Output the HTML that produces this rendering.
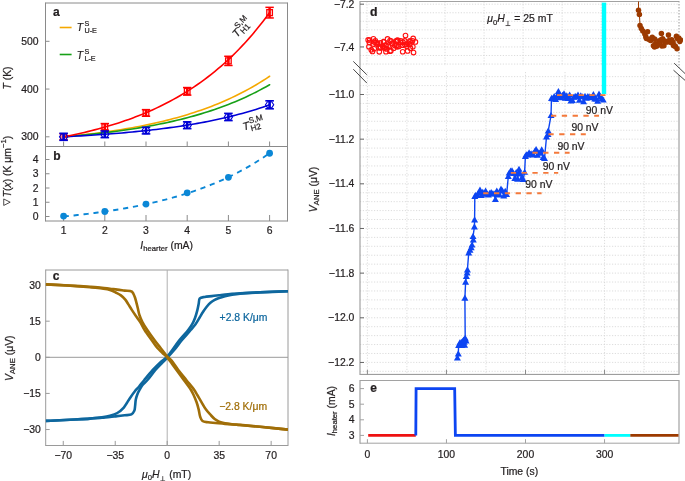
<!DOCTYPE html>
<html><head><meta charset="utf-8"><style>
html,body{margin:0;padding:0;background:#fff;overflow:hidden;width:685px;height:481px;}
svg{display:block;font-family:'Liberation Sans',sans-serif;will-change:transform;}
text{white-space:pre;}
</style></head><body>
<svg width="685" height="481" viewBox="0 0 685 481" style="font-family:'Liberation Sans',sans-serif">
<rect width="685" height="481" fill="#fff"/>
<line x1="45.5" y1="3" x2="287.5" y2="3" stroke="#8a8a8a" stroke-width="1" />
<line x1="45.5" y1="146.5" x2="287.5" y2="146.5" stroke="#8a8a8a" stroke-width="1" />
<line x1="45.5" y1="221" x2="287.5" y2="221" stroke="#8a8a8a" stroke-width="1" />
<line x1="45.5" y1="2.5" x2="45.5" y2="221.5" stroke="#8a8a8a" stroke-width="1" />
<line x1="287.5" y1="2.5" x2="287.5" y2="221.5" stroke="#8a8a8a" stroke-width="1" />
<line x1="45.5" y1="136.8" x2="49.5" y2="136.8" stroke="#8a8a8a" stroke-width="1" />
<text x="38.6" y="140.4" font-size="10.4" text-anchor="end" fill="#231f20" stroke="#231f20" stroke-width="0.22" >300</text>
<line x1="45.5" y1="89.05" x2="49.5" y2="89.05" stroke="#8a8a8a" stroke-width="1" />
<text x="38.6" y="92.65" font-size="10.4" text-anchor="end" fill="#231f20" stroke="#231f20" stroke-width="0.22" >400</text>
<line x1="45.5" y1="41.3" x2="49.5" y2="41.3" stroke="#8a8a8a" stroke-width="1" />
<text x="38.6" y="44.9" font-size="10.4" text-anchor="end" fill="#231f20" stroke="#231f20" stroke-width="0.22" >500</text>
<line x1="45.5" y1="216.5" x2="49.5" y2="216.5" stroke="#8a8a8a" stroke-width="1" />
<text x="38.6" y="220.1" font-size="10.4" text-anchor="end" fill="#231f20" stroke="#231f20" stroke-width="0.22" >0</text>
<line x1="45.5" y1="202.25" x2="49.5" y2="202.25" stroke="#8a8a8a" stroke-width="1" />
<text x="38.6" y="205.85" font-size="10.4" text-anchor="end" fill="#231f20" stroke="#231f20" stroke-width="0.22" >1</text>
<line x1="45.5" y1="188" x2="49.5" y2="188" stroke="#8a8a8a" stroke-width="1" />
<text x="38.6" y="191.6" font-size="10.4" text-anchor="end" fill="#231f20" stroke="#231f20" stroke-width="0.22" >2</text>
<line x1="45.5" y1="173.75" x2="49.5" y2="173.75" stroke="#8a8a8a" stroke-width="1" />
<text x="38.6" y="177.35" font-size="10.4" text-anchor="end" fill="#231f20" stroke="#231f20" stroke-width="0.22" >3</text>
<line x1="45.5" y1="159.5" x2="49.5" y2="159.5" stroke="#8a8a8a" stroke-width="1" />
<text x="38.6" y="163.1" font-size="10.4" text-anchor="end" fill="#231f20" stroke="#231f20" stroke-width="0.22" >4</text>
<line x1="63.6" y1="146.5" x2="63.6" y2="141.5" stroke="#8a8a8a" stroke-width="1" />
<line x1="63.6" y1="221" x2="63.6" y2="215" stroke="#8a8a8a" stroke-width="1" />
<text x="63.6" y="234.4" font-size="10.4" text-anchor="middle" fill="#231f20" stroke="#231f20" stroke-width="0.22" >1</text>
<line x1="104.8" y1="146.5" x2="104.8" y2="141.5" stroke="#8a8a8a" stroke-width="1" />
<line x1="104.8" y1="221" x2="104.8" y2="215" stroke="#8a8a8a" stroke-width="1" />
<text x="104.8" y="234.4" font-size="10.4" text-anchor="middle" fill="#231f20" stroke="#231f20" stroke-width="0.22" >2</text>
<line x1="146" y1="146.5" x2="146" y2="141.5" stroke="#8a8a8a" stroke-width="1" />
<line x1="146" y1="221" x2="146" y2="215" stroke="#8a8a8a" stroke-width="1" />
<text x="146" y="234.4" font-size="10.4" text-anchor="middle" fill="#231f20" stroke="#231f20" stroke-width="0.22" >3</text>
<line x1="187.2" y1="146.5" x2="187.2" y2="141.5" stroke="#8a8a8a" stroke-width="1" />
<line x1="187.2" y1="221" x2="187.2" y2="215" stroke="#8a8a8a" stroke-width="1" />
<text x="187.2" y="234.4" font-size="10.4" text-anchor="middle" fill="#231f20" stroke="#231f20" stroke-width="0.22" >4</text>
<line x1="228.4" y1="146.5" x2="228.4" y2="141.5" stroke="#8a8a8a" stroke-width="1" />
<line x1="228.4" y1="221" x2="228.4" y2="215" stroke="#8a8a8a" stroke-width="1" />
<text x="228.4" y="234.4" font-size="10.4" text-anchor="middle" fill="#231f20" stroke="#231f20" stroke-width="0.22" >5</text>
<line x1="269.6" y1="146.5" x2="269.6" y2="141.5" stroke="#8a8a8a" stroke-width="1" />
<line x1="269.6" y1="221" x2="269.6" y2="215" stroke="#8a8a8a" stroke-width="1" />
<text x="269.6" y="234.4" font-size="10.4" text-anchor="middle" fill="#231f20" stroke="#231f20" stroke-width="0.22" >6</text>
<path d="M63.6 136.8 L67.03 136.47 L70.47 136.14 L73.9 135.79 L77.33 135.43 L80.77 135.05 L84.2 134.67 L87.63 134.27 L91.07 133.86 L94.5 133.44 L97.93 133 L101.37 132.54 L104.8 132.07 L108.23 131.59 L111.67 131.09 L115.1 130.57 L118.53 130.04 L121.97 129.48 L125.4 128.91 L128.83 128.32 L132.27 127.71 L135.7 127.08 L139.13 126.43 L142.57 125.76 L146 125.06 L149.43 124.34 L152.87 123.6 L156.3 122.83 L159.73 122.04 L163.17 121.22 L166.6 120.37 L170.03 119.49 L173.47 118.59 L176.9 117.65 L180.33 116.68 L183.77 115.68 L187.2 114.65 L190.63 113.58 L194.07 112.48 L197.5 111.34 L200.93 110.16 L204.37 108.95 L207.8 107.69 L211.23 106.39 L214.67 105.04 L218.1 103.66 L221.53 102.22 L224.97 100.74 L228.4 99.21 L231.83 97.62 L235.27 95.99 L238.7 94.29 L242.13 92.55 L245.57 90.74 L249 88.87 L252.43 86.94 L255.87 84.95 L259.3 82.89 L262.73 80.76 L266.17 78.56 L269.6 76.28" fill="none" stroke="#f5a800" stroke-width="1.6" stroke-linejoin="round" stroke-linecap="round" />
<path d="M63.6 136.8 L67.03 136.52 L70.47 136.23 L73.9 135.93 L77.33 135.62 L80.77 135.3 L84.2 134.97 L87.63 134.62 L91.07 134.27 L94.5 133.9 L97.93 133.53 L101.37 133.14 L104.8 132.73 L108.23 132.32 L111.67 131.88 L115.1 131.44 L118.53 130.98 L121.97 130.5 L125.4 130.01 L128.83 129.5 L132.27 128.98 L135.7 128.44 L139.13 127.87 L142.57 127.3 L146 126.7 L149.43 126.08 L152.87 125.44 L156.3 124.78 L159.73 124.09 L163.17 123.39 L166.6 122.66 L170.03 121.9 L173.47 121.12 L176.9 120.32 L180.33 119.49 L183.77 118.63 L187.2 117.74 L190.63 116.82 L194.07 115.87 L197.5 114.89 L200.93 113.88 L204.37 112.83 L207.8 111.75 L211.23 110.63 L214.67 109.47 L218.1 108.28 L221.53 107.04 L224.97 105.76 L228.4 104.45 L231.83 103.08 L235.27 101.67 L238.7 100.22 L242.13 98.71 L245.57 97.16 L249 95.55 L252.43 93.89 L255.87 92.18 L259.3 90.4 L262.73 88.57 L266.17 86.68 L269.6 84.72" fill="none" stroke="#17a017" stroke-width="1.6" stroke-linejoin="round" stroke-linecap="round" />
<path d="M63.6 136.8 L67.03 136.63 L70.47 136.45 L73.9 136.27 L77.33 136.07 L80.77 135.88 L84.2 135.67 L87.63 135.46 L91.07 135.25 L94.5 135.02 L97.93 134.79 L101.37 134.55 L104.8 134.3 L108.23 134.05 L111.67 133.78 L115.1 133.51 L118.53 133.23 L121.97 132.94 L125.4 132.63 L128.83 132.32 L132.27 132 L135.7 131.67 L139.13 131.32 L142.57 130.97 L146 130.6 L149.43 130.22 L152.87 129.83 L156.3 129.42 L159.73 129 L163.17 128.57 L166.6 128.12 L170.03 127.66 L173.47 127.18 L176.9 126.69 L180.33 126.18 L183.77 125.65 L187.2 125.1 L190.63 124.54 L194.07 123.96 L197.5 123.36 L200.93 122.73 L204.37 122.09 L207.8 121.43 L211.23 120.74 L214.67 120.03 L218.1 119.3 L221.53 118.54 L224.97 117.76 L228.4 116.95 L231.83 116.11 L235.27 115.25 L238.7 114.35 L242.13 113.43 L245.57 112.47 L249 111.49 L252.43 110.47 L255.87 109.42 L259.3 108.33 L262.73 107.2 L266.17 106.04 L269.6 104.84" fill="none" stroke="#0000d6" stroke-width="1.6" stroke-linejoin="round" stroke-linecap="round" />
<path d="M63.6 136.8 L67.03 136.13 L70.47 135.44 L73.9 134.72 L77.33 133.98 L80.77 133.21 L84.2 132.42 L87.63 131.61 L91.07 130.76 L94.5 129.89 L97.93 128.99 L101.37 128.06 L104.8 127.09 L108.23 126.1 L111.67 125.07 L115.1 124.01 L118.53 122.91 L121.97 121.77 L125.4 120.6 L128.83 119.39 L132.27 118.13 L135.7 116.84 L139.13 115.5 L142.57 114.12 L146 112.69 L149.43 111.21 L152.87 109.69 L156.3 108.11 L159.73 106.48 L163.17 104.79 L166.6 103.05 L170.03 101.25 L173.47 99.39 L176.9 97.47 L180.33 95.49 L183.77 93.43 L187.2 91.31 L190.63 89.12 L194.07 86.86 L197.5 84.51 L200.93 82.1 L204.37 79.59 L207.8 77.01 L211.23 74.34 L214.67 71.58 L218.1 68.73 L221.53 65.78 L224.97 62.74 L228.4 59.59 L231.83 56.34 L235.27 52.98 L238.7 49.5 L242.13 45.91 L245.57 42.2 L249 38.37 L252.43 34.4 L255.87 30.31 L259.3 26.08 L262.73 21.7 L266.17 17.18 L269.6 12.51" fill="none" stroke="#ff0000" stroke-width="1.6" stroke-linejoin="round" stroke-linecap="round" />
<line x1="63.6" y1="133.8" x2="63.6" y2="139.8" stroke="#ff0000" stroke-width="2.5" />
<line x1="59.4" y1="133.8" x2="67.8" y2="133.8" stroke="#ff0000" stroke-width="1.5" />
<line x1="59.4" y1="139.8" x2="67.8" y2="139.8" stroke="#ff0000" stroke-width="1.5" />
<rect x="60.8" y="133.8" width="5.6" height="6" fill="none" stroke="#ff0000" stroke-width="1.3"/>
<line x1="104.8" y1="123.57" x2="104.8" y2="130.17" stroke="#ff0000" stroke-width="2.5" />
<line x1="100.6" y1="123.57" x2="109" y2="123.57" stroke="#ff0000" stroke-width="1.5" />
<line x1="100.6" y1="130.17" x2="109" y2="130.17" stroke="#ff0000" stroke-width="1.5" />
<rect x="102" y="123.87" width="5.6" height="6" fill="none" stroke="#ff0000" stroke-width="1.3"/>
<line x1="146" y1="109.63" x2="146" y2="116.23" stroke="#ff0000" stroke-width="2.5" />
<line x1="141.8" y1="109.63" x2="150.2" y2="109.63" stroke="#ff0000" stroke-width="1.5" />
<line x1="141.8" y1="116.23" x2="150.2" y2="116.23" stroke="#ff0000" stroke-width="1.5" />
<rect x="143.2" y="109.93" width="5.6" height="6" fill="none" stroke="#ff0000" stroke-width="1.3"/>
<line x1="187.2" y1="87.54" x2="187.2" y2="95.14" stroke="#ff0000" stroke-width="2.5" />
<line x1="183" y1="87.54" x2="191.4" y2="87.54" stroke="#ff0000" stroke-width="1.5" />
<line x1="183" y1="95.14" x2="191.4" y2="95.14" stroke="#ff0000" stroke-width="1.5" />
<rect x="184.4" y="88.34" width="5.6" height="6" fill="none" stroke="#ff0000" stroke-width="1.3"/>
<line x1="228.4" y1="56.28" x2="228.4" y2="65.48" stroke="#ff0000" stroke-width="2.5" />
<line x1="224.2" y1="56.28" x2="232.6" y2="56.28" stroke="#ff0000" stroke-width="1.5" />
<line x1="224.2" y1="65.48" x2="232.6" y2="65.48" stroke="#ff0000" stroke-width="1.5" />
<rect x="225.6" y="57.88" width="5.6" height="6" fill="none" stroke="#ff0000" stroke-width="1.3"/>
<line x1="269.6" y1="7.35" x2="269.6" y2="17.95" stroke="#ff0000" stroke-width="2.5" />
<line x1="265.4" y1="7.35" x2="273.8" y2="7.35" stroke="#ff0000" stroke-width="1.5" />
<line x1="265.4" y1="17.95" x2="273.8" y2="17.95" stroke="#ff0000" stroke-width="1.5" />
<rect x="266.8" y="9.65" width="5.6" height="6" fill="none" stroke="#ff0000" stroke-width="1.3"/>
<line x1="59.3" y1="133.3" x2="67.9" y2="133.3" stroke="#0000d6" stroke-width="1.6" />
<line x1="59.3" y1="140.3" x2="67.9" y2="140.3" stroke="#0000d6" stroke-width="1.6" />
<polygon points="59.5,136.8 61.5,133.7 65.7,133.7 67.7,136.8 65.7,139.9 61.5,139.9" fill="none" stroke="#0000d6" stroke-width="1.15"/>
<line x1="63.6" y1="133.3" x2="63.6" y2="140.3" stroke="#0000d6" stroke-width="2.6" />
<line x1="100.5" y1="131.02" x2="109.1" y2="131.02" stroke="#0000d6" stroke-width="1.6" />
<line x1="100.5" y1="137.62" x2="109.1" y2="137.62" stroke="#0000d6" stroke-width="1.6" />
<polygon points="100.7,134.32 102.7,131.22 106.9,131.22 108.9,134.32 106.9,137.42 102.7,137.42" fill="none" stroke="#0000d6" stroke-width="1.15"/>
<line x1="104.8" y1="131.02" x2="104.8" y2="137.62" stroke="#0000d6" stroke-width="2.6" />
<line x1="141.7" y1="127.29" x2="150.3" y2="127.29" stroke="#0000d6" stroke-width="1.6" />
<line x1="141.7" y1="133.89" x2="150.3" y2="133.89" stroke="#0000d6" stroke-width="1.6" />
<polygon points="141.9,130.59 143.9,127.49 148.1,127.49 150.1,130.59 148.1,133.69 143.9,133.69" fill="none" stroke="#0000d6" stroke-width="1.15"/>
<line x1="146" y1="127.29" x2="146" y2="133.89" stroke="#0000d6" stroke-width="2.6" />
<line x1="182.9" y1="121.84" x2="191.5" y2="121.84" stroke="#0000d6" stroke-width="1.6" />
<line x1="182.9" y1="128.64" x2="191.5" y2="128.64" stroke="#0000d6" stroke-width="1.6" />
<polygon points="183.1,125.24 185.1,122.14 189.3,122.14 191.3,125.24 189.3,128.34 185.1,128.34" fill="none" stroke="#0000d6" stroke-width="1.15"/>
<line x1="187.2" y1="121.84" x2="187.2" y2="128.64" stroke="#0000d6" stroke-width="2.6" />
<line x1="224.1" y1="113.38" x2="232.7" y2="113.38" stroke="#0000d6" stroke-width="1.6" />
<line x1="224.1" y1="120.58" x2="232.7" y2="120.58" stroke="#0000d6" stroke-width="1.6" />
<polygon points="224.3,116.98 226.3,113.88 230.5,113.88 232.5,116.98 230.5,120.08 226.3,120.08" fill="none" stroke="#0000d6" stroke-width="1.15"/>
<line x1="228.4" y1="113.38" x2="228.4" y2="120.58" stroke="#0000d6" stroke-width="2.6" />
<line x1="265.3" y1="100.81" x2="273.9" y2="100.81" stroke="#0000d6" stroke-width="1.6" />
<line x1="265.3" y1="108.81" x2="273.9" y2="108.81" stroke="#0000d6" stroke-width="1.6" />
<polygon points="265.5,104.81 267.5,101.71 271.7,101.71 273.7,104.81 271.7,107.91 267.5,107.91" fill="none" stroke="#0000d6" stroke-width="1.15"/>
<line x1="269.6" y1="100.81" x2="269.6" y2="108.81" stroke="#0000d6" stroke-width="2.6" />
<line x1="59.7" y1="27.5" x2="71.6" y2="27.5" stroke="#f5a800" stroke-width="1.6" />
<line x1="59.7" y1="54.5" x2="71.6" y2="54.5" stroke="#17a017" stroke-width="1.6" />
<g transform="translate(76.8,30.6)" fill="#231f20" stroke-width="0.22"><text x="0" y="0" font-size="10.4" stroke="#231f20" font-style="italic">T</text><text x="7.65" y="-5" font-size="7.2" stroke="#231f20">S</text><text x="7.65" y="2.4" font-size="7.2" stroke="#231f20">U-E</text></g>
<g transform="translate(76.8,58.7)" fill="#231f20" stroke-width="0.22"><text x="0" y="0" font-size="10.4" stroke="#231f20" font-style="italic">T</text><text x="7.65" y="-5" font-size="7.2" stroke="#231f20">S</text><text x="7.65" y="2.4" font-size="7.2" stroke="#231f20">L-E</text></g>
<g transform="translate(236.9,38) rotate(-48)" fill="#231f20" stroke-width="0.22"><text x="0" y="0" font-size="10.9" stroke="#231f20" font-style="italic">T</text><text x="7.36" y="-5.4" font-size="8.1" stroke="#231f20">S,M</text><text x="7.36" y="2.6" font-size="8.1" stroke="#231f20">H1</text></g>
<g transform="translate(243.7,130.6) rotate(-15)" fill="#231f20" stroke-width="0.22"><text x="0" y="0" font-size="10.9" stroke="#231f20" font-style="italic">T</text><text x="7.36" y="-5.4" font-size="8.1" stroke="#231f20">S,M</text><text x="7.36" y="2.6" font-size="8.1" stroke="#231f20">H2</text></g>
<text x="53" y="15.8" font-size="12" text-anchor="start" fill="#231f20" stroke="#231f20" stroke-width="0.22" font-weight="bold">a</text>
<text x="53.2" y="159.6" font-size="12" text-anchor="start" fill="#231f20" stroke="#231f20" stroke-width="0.22" font-weight="bold">b</text>
<g transform="translate(10.6,78) rotate(-90)" fill="#231f20" stroke-width="0.22"><text x="-11.55" y="0" font-size="10.4" stroke="#231f20" font-style="italic">T</text><text x="-5.2" y="0" font-size="10.4" stroke="#231f20"> (K)</text></g>
<g transform="translate(10.6,170.8) rotate(-90)" fill="#231f20" stroke-width="0.22"><path d="M-34.64 -6.88 L-28.16 -6.88 L-31.4 -0.4 Z" fill="none" stroke="#231f20" stroke-width="0.8" stroke-linejoin="miter"/><text x="-26.52" y="0" font-size="10.4" stroke="#231f20" font-style="italic">T</text><text x="-20.16" y="0" font-size="10.4" stroke="#231f20">(</text><text x="-16.7" y="0" font-size="10.4" stroke="#231f20" font-style="italic">x</text><text x="-11.5" y="0" font-size="10.4" stroke="#231f20">) (K μm</text><text x="22.8" y="-4.3" font-size="7.7" stroke="#231f20">−1</text><text x="31.58" y="0" font-size="10.4" stroke="#231f20">)</text></g>
<g transform="translate(166.7,249)" fill="#231f20" stroke-width="0.22"><text x="-26.35" y="0" font-size="10.4" stroke="#231f20" font-style="italic">I</text><text x="-23.46" y="2.4" font-size="7.7" stroke="#231f20">hearter</text><text x="0.93" y="0" font-size="10.4" stroke="#231f20"> (mA)</text></g>
<path d="M63.6 216.5 L67.03 216.16 L70.47 215.81 L73.9 215.44 L77.33 215.06 L80.77 214.67 L84.2 214.27 L87.63 213.85 L91.07 213.42 L94.5 212.98 L97.93 212.52 L101.37 212.05 L104.8 211.55 L108.23 211.05 L111.67 210.52 L115.1 209.98 L118.53 209.42 L121.97 208.84 L125.4 208.25 L128.83 207.63 L132.27 206.99 L135.7 206.33 L139.13 205.65 L142.57 204.94 L146 204.22 L149.43 203.46 L152.87 202.69 L156.3 201.88 L159.73 201.05 L163.17 200.19 L166.6 199.31 L170.03 198.39 L173.47 197.44 L176.9 196.46 L180.33 195.45 L183.77 194.41 L187.2 193.33 L190.63 192.21 L194.07 191.06 L197.5 189.86 L200.93 188.63 L204.37 187.36 L207.8 186.04 L211.23 184.68 L214.67 183.27 L218.1 181.82 L221.53 180.32 L224.97 178.77 L228.4 177.16 L231.83 175.51 L235.27 173.79 L238.7 172.02 L242.13 170.2 L245.57 168.31 L249 166.35 L252.43 164.33 L255.87 162.25 L259.3 160.09 L262.73 157.86 L266.17 155.56 L269.6 153.18" fill="none" stroke="#0b87d6" stroke-width="1.9" stroke-linejoin="round" stroke-linecap="butt" stroke-dasharray="5.2 4.8"/>
<circle cx="63.6" cy="216.07" r="3.4" fill="#0b87d6"/>
<circle cx="104.8" cy="211.51" r="3.4" fill="#0b87d6"/>
<circle cx="146" cy="204.1" r="3.4" fill="#0b87d6"/>
<circle cx="187.2" cy="192.84" r="3.4" fill="#0b87d6"/>
<circle cx="228.4" cy="177.31" r="3.4" fill="#0b87d6"/>
<circle cx="269.6" cy="153.23" r="3.4" fill="#0b87d6"/>
<line x1="45.7" y1="270" x2="288" y2="270" stroke="#9a9a9a" stroke-width="1" />
<line x1="45.7" y1="445.5" x2="288" y2="445.5" stroke="#9a9a9a" stroke-width="1" />
<line x1="45.7" y1="269.5" x2="45.7" y2="446" stroke="#9a9a9a" stroke-width="1" />
<line x1="288" y1="269.5" x2="288" y2="446" stroke="#9a9a9a" stroke-width="1" />
<line x1="167.2" y1="270" x2="167.2" y2="445.5" stroke="#b0b0b0" stroke-width="1" />
<line x1="45.7" y1="357.3" x2="288" y2="357.3" stroke="#9a9a9a" stroke-width="1" />
<line x1="45.7" y1="285.06" x2="49.7" y2="285.06" stroke="#9a9a9a" stroke-width="1" />
<text x="40.8" y="288.66" font-size="10.4" text-anchor="end" fill="#231f20" stroke="#231f20" stroke-width="0.22" >30</text>
<line x1="45.7" y1="321.18" x2="49.7" y2="321.18" stroke="#9a9a9a" stroke-width="1" />
<text x="40.8" y="324.78" font-size="10.4" text-anchor="end" fill="#231f20" stroke="#231f20" stroke-width="0.22" >15</text>
<line x1="45.7" y1="357.3" x2="49.7" y2="357.3" stroke="#9a9a9a" stroke-width="1" />
<text x="40.8" y="360.9" font-size="10.4" text-anchor="end" fill="#231f20" stroke="#231f20" stroke-width="0.22" >0</text>
<line x1="45.7" y1="393.42" x2="49.7" y2="393.42" stroke="#9a9a9a" stroke-width="1" />
<text x="40.8" y="397.02" font-size="10.4" text-anchor="end" fill="#231f20" stroke="#231f20" stroke-width="0.22" >−15</text>
<line x1="45.7" y1="429.54" x2="49.7" y2="429.54" stroke="#9a9a9a" stroke-width="1" />
<text x="40.8" y="433.14" font-size="10.4" text-anchor="end" fill="#231f20" stroke="#231f20" stroke-width="0.22" >−30</text>
<line x1="63.25" y1="445.5" x2="63.25" y2="440.9" stroke="#9a9a9a" stroke-width="1" />
<text x="63.25" y="458.9" font-size="10.4" text-anchor="middle" fill="#231f20" stroke="#231f20" stroke-width="0.22" >−70</text>
<line x1="115.22" y1="445.5" x2="115.22" y2="440.9" stroke="#9a9a9a" stroke-width="1" />
<text x="115.22" y="458.9" font-size="10.4" text-anchor="middle" fill="#231f20" stroke="#231f20" stroke-width="0.22" >−35</text>
<line x1="167.2" y1="445.5" x2="167.2" y2="440.9" stroke="#9a9a9a" stroke-width="1" />
<text x="167.2" y="458.9" font-size="10.4" text-anchor="middle" fill="#231f20" stroke="#231f20" stroke-width="0.22" >0</text>
<line x1="219.17" y1="445.5" x2="219.17" y2="440.9" stroke="#9a9a9a" stroke-width="1" />
<text x="219.17" y="458.9" font-size="10.4" text-anchor="middle" fill="#231f20" stroke="#231f20" stroke-width="0.22" >35</text>
<line x1="271.15" y1="445.5" x2="271.15" y2="440.9" stroke="#9a9a9a" stroke-width="1" />
<text x="271.15" y="458.9" font-size="10.4" text-anchor="middle" fill="#231f20" stroke="#231f20" stroke-width="0.22" >70</text>
<text x="52.8" y="280.2" font-size="12" text-anchor="start" fill="#231f20" stroke="#231f20" stroke-width="0.22" font-weight="bold">c</text>
<g transform="translate(12.6,358.2) rotate(-90)" fill="#231f20" stroke-width="0.22"><text x="-22.76" y="0" font-size="10.4" stroke="#231f20" font-style="italic">V</text><text x="-15.82" y="2.4" font-size="7.7" stroke="#231f20">ANE</text><text x="0.01" y="0" font-size="10.4" stroke="#231f20"> (μV)</text></g>
<g transform="translate(166.6,477.6)" fill="#231f20" stroke-width="0.22"><text x="-24.51" y="0" font-size="10.4" stroke="#231f20" font-style="italic">μ</text><text x="-18.81" y="2.4" font-size="7.7" stroke="#231f20">0</text><text x="-14.53" y="0" font-size="10.4" stroke="#231f20" font-style="italic">H</text><path d="M-3.86 -1.48 L-3.86 3.25 M-6.25 3.25 L-1.48 3.25" fill="none" stroke="#231f20" stroke-width="0.75"/><text x="-0.32" y="0" font-size="10.4" stroke="#231f20"> (mT)</text></g>
<defs><clipPath id="cc"><rect x="45.7" y="270" width="242.3" height="175.5"/></clipPath></defs>
<g clip-path="url(#cc)">
<path d="M45.7 420.9 C50.47 420.7 55.18 420.53 60 420.3 C64.94 420.06 70 419.78 75 419.5 C80 419.22 85.28 418.98 90 418.6 C94.23 418.26 98.42 417.94 102 417.4 C104.95 416.96 107.42 416.55 110 415.8 C112.52 415.07 115.04 414.32 117.3 413 C119.65 411.62 122.16 409.43 123.8 407.6 C125.1 406.15 125.68 404.77 126.7 403.2 C127.86 401.4 129.09 399.32 130.4 397.4 C131.75 395.42 133.21 393.35 134.7 391.5 C136.12 389.73 137.59 388.29 139.1 386.5 C140.78 384.49 142.33 382.38 144.3 380 C146.77 377.01 150.03 373.04 152.8 370 C155.25 367.3 157.55 364.83 160 362.6 C162.29 360.53 164.94 359.11 167 357 C169.04 354.91 170.41 352.55 172.3 350 C174.53 346.98 176.91 343.27 179.5 340 C182.19 336.6 185.92 332.94 188.2 330 C189.86 327.86 191.05 326.24 192.2 324.2 C193.35 322.15 194.26 319.96 195.1 317.7 C195.97 315.36 196.69 312.78 197.3 310.4 C197.87 308.16 198.27 305.89 198.7 303.8 C199.09 301.91 198.76 299.55 199.8 298.4 C200.79 297.3 202.82 297.27 204.6 296.9 C206.74 296.45 209.39 296.38 211.8 296.1 C214.23 295.82 216.55 295.5 219.1 295.2 C221.92 294.87 224.81 294.49 228 294.2 C231.7 293.87 235.49 293.67 240 293.4 C245.82 293.05 252.77 292.64 260 292.3 C268.55 291.9 278.67 291.57 288 291.2" fill="none" stroke="#0e679e" stroke-width="2.6" stroke-linejoin="round" stroke-linecap="butt" />
<path d="M45.7 420.9 C50.47 420.7 55.18 420.53 60 420.3 C64.94 420.06 70 419.78 75 419.5 C80 419.22 85.28 418.94 90 418.6 C94.22 418.3 98.4 417.88 102 417.6 C104.94 417.37 107.43 417.26 110 417 C112.41 416.75 114.62 416.39 117 416.1 C119.48 415.79 122.14 415.49 124.6 415.2 C126.93 414.93 129.73 415.32 131.4 414.4 C132.77 413.64 133.68 412.17 134.3 410.8 C134.93 409.41 134.86 407.8 135.1 406.1 C135.38 404.11 135.4 401.62 135.8 399.6 C136.16 397.78 136.65 396.17 137.3 394.5 C137.97 392.77 138.96 390.95 139.8 389.4 C140.53 388.05 141 387 142 385.7 C143.35 383.93 145.56 382.22 147.5 380 C149.96 377.18 152.88 372.93 155.4 370 C157.51 367.55 159.45 365.63 161.5 363.5 C163.52 361.4 165.55 359.47 167.6 357.3 C169.78 354.99 171.96 352.67 174.2 350 C176.75 346.97 179.28 343.3 182 340 C184.78 336.63 188.24 332.9 190.7 330 C192.55 327.82 194.04 326.24 195.5 324.2 C196.97 322.14 198.2 319.82 199.5 317.7 C200.73 315.69 201.87 313.68 203.1 311.8 C204.27 310.02 205.44 308.26 206.7 306.7 C207.88 305.24 209.05 303.86 210.4 302.7 C211.72 301.57 213.22 300.59 214.7 299.8 C216.12 299.04 217.51 298.55 219.1 298 C220.91 297.37 222.94 296.82 225 296.3 C227.22 295.74 229.58 295.24 232 294.8 C234.57 294.33 236.72 293.94 240 293.6 C245.16 293.06 252.77 292.77 260 292.4 C268.55 291.96 278.67 291.6 288 291.2" fill="none" stroke="#0e679e" stroke-width="2.6" stroke-linejoin="round" stroke-linecap="butt" />
<path d="M45.7 284.4 C50.47 284.63 55.18 284.82 60 285.1 C64.94 285.39 70 285.73 75 286.1 C80 286.47 85.28 286.88 90 287.3 C94.22 287.68 98.41 288.01 102 288.5 C104.94 288.9 107.59 289.16 110 289.9 C112.13 290.55 113.95 291.56 115.8 292.5 C117.58 293.4 119.33 294.22 120.9 295.4 C122.51 296.61 124.05 298.19 125.3 299.7 C126.45 301.1 127.19 302.52 128.2 304.1 C129.35 305.89 130.54 307.95 131.8 309.9 C133.1 311.92 134.5 313.99 135.9 316 C137.3 318.02 138.82 319.81 140.2 322 C141.73 324.43 142.88 327.23 144.6 330 C146.59 333.2 149.36 336.86 151.6 340 C153.61 342.82 155.43 345.72 157.4 348 C159.07 349.94 160.85 351.4 162.5 353 C164.04 354.49 165.8 356 167 357.3 C167.9 358.27 168.27 358.8 169.2 360 C170.95 362.26 174.07 366.67 176.5 370 C178.93 373.33 181.38 376.66 183.8 380 C186.21 383.33 189.27 387.18 191 390 C192.17 391.9 192.74 393.15 193.6 395 C194.61 397.18 195.74 399.84 196.6 402.3 C197.44 404.71 198.1 407.16 198.7 409.6 C199.29 412 199.45 414.77 200.2 416.8 C200.8 418.44 201.28 420.08 202.5 421 C203.85 422.02 206.17 421.97 208.2 422.3 C210.47 422.67 212.91 422.75 215.5 423 C218.46 423.28 221.47 423.6 225 423.9 C229.43 424.27 234.64 424.56 240 425 C246.19 425.51 252.78 426.11 260 426.8 C268.55 427.61 278.67 428.67 288 429.6" fill="none" stroke="#a06e08" stroke-width="2.6" stroke-linejoin="round" stroke-linecap="butt" />
<path d="M45.7 284.4 C50.47 284.6 55.18 284.77 60 285 C64.94 285.24 70 285.5 75 285.8 C80 286.1 85.28 286.45 90 286.8 C94.22 287.12 98.41 287.43 102 287.8 C104.94 288.11 107.39 288.49 110 288.8 C112.49 289.09 114.87 289.3 117.3 289.6 C119.74 289.9 122.17 290.27 124.6 290.6 C127.03 290.93 130.2 290.42 131.9 291.6 C133.42 292.66 133.98 295.04 134.7 296.8 C135.39 298.47 135.71 300.14 136.2 301.9 C136.72 303.77 137.2 305.65 137.7 307.7 C138.26 309.99 138.62 312.63 139.4 315 C140.18 317.39 141.18 319.63 142.4 322 C143.76 324.63 145.46 327.22 147.3 330 C149.4 333.18 152.08 336.88 154.4 340 C156.51 342.84 158.77 345.65 160.6 348 C162.05 349.86 163.28 351.43 164.5 353 C165.59 354.41 166.48 355.81 167.6 357 C168.66 358.13 169.74 358.62 171 360 C173.08 362.29 175.77 366.69 178.3 370 C180.87 373.36 183.63 376.67 186.3 380 C188.97 383.33 192.34 387.18 194.3 390 C195.62 391.9 196.21 393.17 197.3 395 C198.61 397.2 200.15 399.87 201.6 402.3 C203.05 404.74 204.44 407.44 206 409.6 C207.39 411.52 208.91 413.1 210.4 414.7 C211.81 416.22 213.18 417.82 214.7 419 C216.09 420.08 217.48 420.9 219.1 421.6 C220.88 422.37 222.93 422.87 225 423.3 C227.22 423.76 229.59 423.94 232 424.2 C234.57 424.48 236.73 424.6 240 424.9 C245.17 425.37 252.77 426.1 260 426.8 C268.55 427.63 278.67 428.67 288 429.6" fill="none" stroke="#a06e08" stroke-width="2.6" stroke-linejoin="round" stroke-linecap="butt" />
</g>
<text x="219.6" y="321.3" font-size="10.4" text-anchor="start" fill="#0e679e" stroke="#0e679e" stroke-width="0.22" >+2.8 K/μm</text>
<text x="219.2" y="410.3" font-size="10.4" text-anchor="start" fill="#a06e08" stroke="#a06e08" stroke-width="0.22" >−2.8 K/μm</text>
<defs><clipPath id="cd"><rect x="360" y="1.5" width="323" height="372.5"/></clipPath></defs>
<line x1="360" y1="4.2" x2="679" y2="4.2" stroke="#d2d2d2" stroke-width="0.75" stroke-dasharray="1.2 1.6"/>
<line x1="360" y1="12.75" x2="679" y2="12.75" stroke="#d2d2d2" stroke-width="0.75" stroke-dasharray="1.2 1.6"/>
<line x1="360" y1="21.3" x2="679" y2="21.3" stroke="#d2d2d2" stroke-width="0.75" stroke-dasharray="1.2 1.6"/>
<line x1="360" y1="29.85" x2="679" y2="29.85" stroke="#d2d2d2" stroke-width="0.75" stroke-dasharray="1.2 1.6"/>
<line x1="360" y1="38.4" x2="679" y2="38.4" stroke="#d2d2d2" stroke-width="0.75" stroke-dasharray="1.2 1.6"/>
<line x1="360" y1="46.95" x2="679" y2="46.95" stroke="#d2d2d2" stroke-width="0.75" stroke-dasharray="1.2 1.6"/>
<line x1="360" y1="55.5" x2="679" y2="55.5" stroke="#d2d2d2" stroke-width="0.75" stroke-dasharray="1.2 1.6"/>
<line x1="360" y1="64.05" x2="679" y2="64.05" stroke="#d2d2d2" stroke-width="0.75" stroke-dasharray="1.2 1.6"/>
<line x1="367" y1="1.5" x2="367" y2="66" stroke="#d2d2d2" stroke-width="0.75" stroke-dasharray="1.2 1.6"/>
<line x1="406.03" y1="1.5" x2="406.03" y2="66" stroke="#d2d2d2" stroke-width="0.75" stroke-dasharray="1.2 1.6"/>
<line x1="445.06" y1="1.5" x2="445.06" y2="66" stroke="#d2d2d2" stroke-width="0.75" stroke-dasharray="1.2 1.6"/>
<line x1="484.09" y1="1.5" x2="484.09" y2="66" stroke="#d2d2d2" stroke-width="0.75" stroke-dasharray="1.2 1.6"/>
<line x1="523.12" y1="1.5" x2="523.12" y2="66" stroke="#d2d2d2" stroke-width="0.75" stroke-dasharray="1.2 1.6"/>
<line x1="562.15" y1="1.5" x2="562.15" y2="66" stroke="#d2d2d2" stroke-width="0.75" stroke-dasharray="1.2 1.6"/>
<line x1="601.18" y1="1.5" x2="601.18" y2="66" stroke="#d2d2d2" stroke-width="0.75" stroke-dasharray="1.2 1.6"/>
<line x1="640.21" y1="1.5" x2="640.21" y2="66" stroke="#d2d2d2" stroke-width="0.75" stroke-dasharray="1.2 1.6"/>
<line x1="360" y1="76.64" x2="679" y2="76.64" stroke="#d2d2d2" stroke-width="0.75" stroke-dasharray="1.2 1.6"/>
<line x1="360" y1="85.57" x2="679" y2="85.57" stroke="#d2d2d2" stroke-width="0.75" stroke-dasharray="1.2 1.6"/>
<line x1="360" y1="94.5" x2="679" y2="94.5" stroke="#d2d2d2" stroke-width="0.75" stroke-dasharray="1.2 1.6"/>
<line x1="360" y1="103.43" x2="679" y2="103.43" stroke="#d2d2d2" stroke-width="0.75" stroke-dasharray="1.2 1.6"/>
<line x1="360" y1="112.36" x2="679" y2="112.36" stroke="#d2d2d2" stroke-width="0.75" stroke-dasharray="1.2 1.6"/>
<line x1="360" y1="121.29" x2="679" y2="121.29" stroke="#d2d2d2" stroke-width="0.75" stroke-dasharray="1.2 1.6"/>
<line x1="360" y1="130.22" x2="679" y2="130.22" stroke="#d2d2d2" stroke-width="0.75" stroke-dasharray="1.2 1.6"/>
<line x1="360" y1="139.15" x2="679" y2="139.15" stroke="#d2d2d2" stroke-width="0.75" stroke-dasharray="1.2 1.6"/>
<line x1="360" y1="148.08" x2="679" y2="148.08" stroke="#d2d2d2" stroke-width="0.75" stroke-dasharray="1.2 1.6"/>
<line x1="360" y1="157.01" x2="679" y2="157.01" stroke="#d2d2d2" stroke-width="0.75" stroke-dasharray="1.2 1.6"/>
<line x1="360" y1="165.94" x2="679" y2="165.94" stroke="#d2d2d2" stroke-width="0.75" stroke-dasharray="1.2 1.6"/>
<line x1="360" y1="174.87" x2="679" y2="174.87" stroke="#d2d2d2" stroke-width="0.75" stroke-dasharray="1.2 1.6"/>
<line x1="360" y1="183.8" x2="679" y2="183.8" stroke="#d2d2d2" stroke-width="0.75" stroke-dasharray="1.2 1.6"/>
<line x1="360" y1="192.73" x2="679" y2="192.73" stroke="#d2d2d2" stroke-width="0.75" stroke-dasharray="1.2 1.6"/>
<line x1="360" y1="201.66" x2="679" y2="201.66" stroke="#d2d2d2" stroke-width="0.75" stroke-dasharray="1.2 1.6"/>
<line x1="360" y1="210.59" x2="679" y2="210.59" stroke="#d2d2d2" stroke-width="0.75" stroke-dasharray="1.2 1.6"/>
<line x1="360" y1="219.52" x2="679" y2="219.52" stroke="#d2d2d2" stroke-width="0.75" stroke-dasharray="1.2 1.6"/>
<line x1="360" y1="228.45" x2="679" y2="228.45" stroke="#d2d2d2" stroke-width="0.75" stroke-dasharray="1.2 1.6"/>
<line x1="360" y1="237.38" x2="679" y2="237.38" stroke="#d2d2d2" stroke-width="0.75" stroke-dasharray="1.2 1.6"/>
<line x1="360" y1="246.31" x2="679" y2="246.31" stroke="#d2d2d2" stroke-width="0.75" stroke-dasharray="1.2 1.6"/>
<line x1="360" y1="255.24" x2="679" y2="255.24" stroke="#d2d2d2" stroke-width="0.75" stroke-dasharray="1.2 1.6"/>
<line x1="360" y1="264.17" x2="679" y2="264.17" stroke="#d2d2d2" stroke-width="0.75" stroke-dasharray="1.2 1.6"/>
<line x1="360" y1="273.1" x2="679" y2="273.1" stroke="#d2d2d2" stroke-width="0.75" stroke-dasharray="1.2 1.6"/>
<line x1="360" y1="282.03" x2="679" y2="282.03" stroke="#d2d2d2" stroke-width="0.75" stroke-dasharray="1.2 1.6"/>
<line x1="360" y1="290.96" x2="679" y2="290.96" stroke="#d2d2d2" stroke-width="0.75" stroke-dasharray="1.2 1.6"/>
<line x1="360" y1="299.89" x2="679" y2="299.89" stroke="#d2d2d2" stroke-width="0.75" stroke-dasharray="1.2 1.6"/>
<line x1="360" y1="308.82" x2="679" y2="308.82" stroke="#d2d2d2" stroke-width="0.75" stroke-dasharray="1.2 1.6"/>
<line x1="360" y1="317.75" x2="679" y2="317.75" stroke="#d2d2d2" stroke-width="0.75" stroke-dasharray="1.2 1.6"/>
<line x1="360" y1="326.68" x2="679" y2="326.68" stroke="#d2d2d2" stroke-width="0.75" stroke-dasharray="1.2 1.6"/>
<line x1="360" y1="335.61" x2="679" y2="335.61" stroke="#d2d2d2" stroke-width="0.75" stroke-dasharray="1.2 1.6"/>
<line x1="360" y1="344.54" x2="679" y2="344.54" stroke="#d2d2d2" stroke-width="0.75" stroke-dasharray="1.2 1.6"/>
<line x1="360" y1="353.47" x2="679" y2="353.47" stroke="#d2d2d2" stroke-width="0.75" stroke-dasharray="1.2 1.6"/>
<line x1="360" y1="362.4" x2="679" y2="362.4" stroke="#d2d2d2" stroke-width="0.75" stroke-dasharray="1.2 1.6"/>
<line x1="360" y1="371.33" x2="679" y2="371.33" stroke="#d2d2d2" stroke-width="0.75" stroke-dasharray="1.2 1.6"/>
<line x1="367.4" y1="72" x2="367.4" y2="374.4" stroke="#d2d2d2" stroke-width="0.75" stroke-dasharray="1.2 1.6"/>
<line x1="406.92" y1="72" x2="406.92" y2="374.4" stroke="#d2d2d2" stroke-width="0.75" stroke-dasharray="1.2 1.6"/>
<line x1="446.45" y1="72" x2="446.45" y2="374.4" stroke="#d2d2d2" stroke-width="0.75" stroke-dasharray="1.2 1.6"/>
<line x1="485.97" y1="72" x2="485.97" y2="374.4" stroke="#d2d2d2" stroke-width="0.75" stroke-dasharray="1.2 1.6"/>
<line x1="525.5" y1="72" x2="525.5" y2="374.4" stroke="#d2d2d2" stroke-width="0.75" stroke-dasharray="1.2 1.6"/>
<line x1="565.02" y1="72" x2="565.02" y2="374.4" stroke="#d2d2d2" stroke-width="0.75" stroke-dasharray="1.2 1.6"/>
<line x1="604.55" y1="72" x2="604.55" y2="374.4" stroke="#d2d2d2" stroke-width="0.75" stroke-dasharray="1.2 1.6"/>
<line x1="644.08" y1="72" x2="644.08" y2="374.4" stroke="#d2d2d2" stroke-width="0.75" stroke-dasharray="1.2 1.6"/>
<line x1="360" y1="1.5" x2="679" y2="1.5" stroke="#a2a2a2" stroke-width="1" />
<line x1="360" y1="374.4" x2="679" y2="374.4" stroke="#929292" stroke-width="1" />
<line x1="360" y1="1" x2="360" y2="374.9" stroke="#a2a2a2" stroke-width="1.2" />
<line x1="679" y1="1" x2="679" y2="68" stroke="#999" stroke-width="1.0" stroke-dasharray="1.5 1.5"/>
<line x1="679" y1="75" x2="679" y2="374.9" stroke="#a2a2a2" stroke-width="1.2" />
<line x1="360" y1="4.2" x2="364" y2="4.2" stroke="#666" stroke-width="1" />
<text x="354.4" y="7.8" font-size="10.4" text-anchor="end" fill="#231f20" stroke="#231f20" stroke-width="0.22" >−7.2</text>
<line x1="360" y1="46.95" x2="364" y2="46.95" stroke="#666" stroke-width="1" />
<text x="354.4" y="50.55" font-size="10.4" text-anchor="end" fill="#231f20" stroke="#231f20" stroke-width="0.22" >−7.4</text>
<line x1="360" y1="94.5" x2="364" y2="94.5" stroke="#666" stroke-width="1" />
<text x="354.4" y="98.1" font-size="10.4" text-anchor="end" fill="#231f20" stroke="#231f20" stroke-width="0.22" >−11.0</text>
<line x1="360" y1="139.16" x2="364" y2="139.16" stroke="#666" stroke-width="1" />
<text x="354.4" y="142.76" font-size="10.4" text-anchor="end" fill="#231f20" stroke="#231f20" stroke-width="0.22" >−11.2</text>
<line x1="360" y1="183.82" x2="364" y2="183.82" stroke="#666" stroke-width="1" />
<text x="354.4" y="187.42" font-size="10.4" text-anchor="end" fill="#231f20" stroke="#231f20" stroke-width="0.22" >−11.4</text>
<line x1="360" y1="228.48" x2="364" y2="228.48" stroke="#666" stroke-width="1" />
<text x="354.4" y="232.08" font-size="10.4" text-anchor="end" fill="#231f20" stroke="#231f20" stroke-width="0.22" >−11.6</text>
<line x1="360" y1="273.14" x2="364" y2="273.14" stroke="#666" stroke-width="1" />
<text x="354.4" y="276.74" font-size="10.4" text-anchor="end" fill="#231f20" stroke="#231f20" stroke-width="0.22" >−11.8</text>
<line x1="360" y1="317.8" x2="364" y2="317.8" stroke="#666" stroke-width="1" />
<text x="354.4" y="321.4" font-size="10.4" text-anchor="end" fill="#231f20" stroke="#231f20" stroke-width="0.22" >−12.0</text>
<line x1="360" y1="362.46" x2="364" y2="362.46" stroke="#666" stroke-width="1" />
<text x="354.4" y="366.06" font-size="10.4" text-anchor="end" fill="#231f20" stroke="#231f20" stroke-width="0.22" >−12.2</text>
<line x1="367.4" y1="374.4" x2="367.4" y2="369.9" stroke="#8a8a8a" stroke-width="1" />
<line x1="446.45" y1="374.4" x2="446.45" y2="369.9" stroke="#8a8a8a" stroke-width="1" />
<line x1="525.5" y1="374.4" x2="525.5" y2="369.9" stroke="#8a8a8a" stroke-width="1" />
<line x1="604.55" y1="374.4" x2="604.55" y2="369.9" stroke="#8a8a8a" stroke-width="1" />
<line x1="353.3" y1="61.4" x2="366.8" y2="74.7" stroke="#333" stroke-width="0.9" />
<line x1="353.3" y1="69.2" x2="366.8" y2="83" stroke="#333" stroke-width="0.9" />
<line x1="674.2" y1="63.2" x2="686" y2="74.5" stroke="#333" stroke-width="0.9" />
<line x1="673.5" y1="70.2" x2="686" y2="81.2" stroke="#333" stroke-width="0.9" />
<text x="370" y="15.9" font-size="12.3" text-anchor="start" fill="#231f20" stroke="#231f20" stroke-width="0.22" font-weight="bold">d</text>
<g transform="translate(487.3,22.3)" fill="#231f20" stroke-width="0.22"><text x="0" y="0" font-size="10.4" stroke="#231f20" font-style="italic">μ</text><text x="5.7" y="2.4" font-size="7.7" stroke="#231f20">0</text><text x="9.98" y="0" font-size="10.4" stroke="#231f20" font-style="italic">H</text><path d="M20.65 -1.48 L20.65 3.25 M18.26 3.25 L23.04 3.25" fill="none" stroke="#231f20" stroke-width="0.75"/><text x="24.19" y="0" font-size="10.4" stroke="#231f20"> = 25 mT</text></g>
<g transform="translate(316.8,189.4) rotate(-90)" fill="#231f20" stroke-width="0.22"><text x="-22.76" y="0" font-size="10.4" stroke="#231f20" font-style="italic">V</text><text x="-15.82" y="2.4" font-size="7.7" stroke="#231f20">ANE</text><text x="0.01" y="0" font-size="10.4" stroke="#231f20"> (μV)</text></g>
<g clip-path="url(#cd)">
<circle cx="368.18" cy="39.95" r="2.3" fill="none" stroke="#ff1010" stroke-width="1.1"/>
<circle cx="369.39" cy="42.55" r="2.3" fill="none" stroke="#ff1010" stroke-width="1.1"/>
<circle cx="368.95" cy="46.66" r="2.3" fill="none" stroke="#ff1010" stroke-width="1.1"/>
<circle cx="369.69" cy="39.98" r="2.3" fill="none" stroke="#ff1010" stroke-width="1.1"/>
<circle cx="371.25" cy="49.84" r="2.3" fill="none" stroke="#ff1010" stroke-width="1.1"/>
<circle cx="372.44" cy="51.38" r="2.3" fill="none" stroke="#ff1010" stroke-width="1.1"/>
<circle cx="373.03" cy="44" r="2.3" fill="none" stroke="#ff1010" stroke-width="1.1"/>
<circle cx="374.41" cy="42.03" r="2.3" fill="none" stroke="#ff1010" stroke-width="1.1"/>
<circle cx="373.41" cy="38.78" r="2.3" fill="none" stroke="#ff1010" stroke-width="1.1"/>
<circle cx="374.2" cy="48.76" r="2.3" fill="none" stroke="#ff1010" stroke-width="1.1"/>
<circle cx="376.01" cy="42.58" r="2.3" fill="none" stroke="#ff1010" stroke-width="1.1"/>
<circle cx="375.33" cy="40.86" r="2.3" fill="none" stroke="#ff1010" stroke-width="1.1"/>
<circle cx="377.53" cy="42.99" r="2.3" fill="none" stroke="#ff1010" stroke-width="1.1"/>
<circle cx="377.69" cy="44.31" r="2.3" fill="none" stroke="#ff1010" stroke-width="1.1"/>
<circle cx="379.21" cy="47.43" r="2.3" fill="none" stroke="#ff1010" stroke-width="1.1"/>
<circle cx="379.28" cy="51.82" r="2.3" fill="none" stroke="#ff1010" stroke-width="1.1"/>
<circle cx="380.47" cy="42.93" r="2.3" fill="none" stroke="#ff1010" stroke-width="1.1"/>
<circle cx="380.43" cy="47.99" r="2.3" fill="none" stroke="#ff1010" stroke-width="1.1"/>
<circle cx="380.5" cy="47.11" r="2.3" fill="none" stroke="#ff1010" stroke-width="1.1"/>
<circle cx="382.68" cy="46.35" r="2.3" fill="none" stroke="#ff1010" stroke-width="1.1"/>
<circle cx="383.65" cy="41.65" r="2.3" fill="none" stroke="#ff1010" stroke-width="1.1"/>
<circle cx="383.65" cy="42.09" r="2.3" fill="none" stroke="#ff1010" stroke-width="1.1"/>
<circle cx="384.99" cy="48.01" r="2.3" fill="none" stroke="#ff1010" stroke-width="1.1"/>
<circle cx="383.82" cy="47.79" r="2.3" fill="none" stroke="#ff1010" stroke-width="1.1"/>
<circle cx="385.94" cy="51.72" r="2.3" fill="none" stroke="#ff1010" stroke-width="1.1"/>
<circle cx="386.02" cy="45.71" r="2.3" fill="none" stroke="#ff1010" stroke-width="1.1"/>
<circle cx="385.85" cy="44.73" r="2.3" fill="none" stroke="#ff1010" stroke-width="1.1"/>
<circle cx="386.65" cy="48.97" r="2.3" fill="none" stroke="#ff1010" stroke-width="1.1"/>
<circle cx="387.53" cy="38.9" r="2.3" fill="none" stroke="#ff1010" stroke-width="1.1"/>
<circle cx="388.12" cy="46.33" r="2.3" fill="none" stroke="#ff1010" stroke-width="1.1"/>
<circle cx="389.95" cy="51.14" r="2.3" fill="none" stroke="#ff1010" stroke-width="1.1"/>
<circle cx="390.01" cy="40.64" r="2.3" fill="none" stroke="#ff1010" stroke-width="1.1"/>
<circle cx="390.91" cy="50.66" r="2.3" fill="none" stroke="#ff1010" stroke-width="1.1"/>
<circle cx="391.18" cy="41.11" r="2.3" fill="none" stroke="#ff1010" stroke-width="1.1"/>
<circle cx="392.02" cy="43.48" r="2.3" fill="none" stroke="#ff1010" stroke-width="1.1"/>
<circle cx="392.18" cy="43.06" r="2.3" fill="none" stroke="#ff1010" stroke-width="1.1"/>
<circle cx="393.76" cy="48.14" r="2.3" fill="none" stroke="#ff1010" stroke-width="1.1"/>
<circle cx="394.82" cy="45.55" r="2.3" fill="none" stroke="#ff1010" stroke-width="1.1"/>
<circle cx="395.92" cy="41.48" r="2.3" fill="none" stroke="#ff1010" stroke-width="1.1"/>
<circle cx="397.1" cy="46.87" r="2.3" fill="none" stroke="#ff1010" stroke-width="1.1"/>
<circle cx="396.65" cy="45.43" r="2.3" fill="none" stroke="#ff1010" stroke-width="1.1"/>
<circle cx="396.56" cy="40.72" r="2.3" fill="none" stroke="#ff1010" stroke-width="1.1"/>
<circle cx="397.62" cy="40.18" r="2.3" fill="none" stroke="#ff1010" stroke-width="1.1"/>
<circle cx="397.83" cy="40.81" r="2.3" fill="none" stroke="#ff1010" stroke-width="1.1"/>
<circle cx="398.78" cy="46.47" r="2.3" fill="none" stroke="#ff1010" stroke-width="1.1"/>
<circle cx="400.72" cy="40.85" r="2.3" fill="none" stroke="#ff1010" stroke-width="1.1"/>
<circle cx="400.56" cy="42.27" r="2.3" fill="none" stroke="#ff1010" stroke-width="1.1"/>
<circle cx="402.7" cy="51.77" r="2.3" fill="none" stroke="#ff1010" stroke-width="1.1"/>
<circle cx="402.49" cy="45.27" r="2.3" fill="none" stroke="#ff1010" stroke-width="1.1"/>
<circle cx="402.9" cy="42.19" r="2.3" fill="none" stroke="#ff1010" stroke-width="1.1"/>
<circle cx="404.77" cy="44.6" r="2.3" fill="none" stroke="#ff1010" stroke-width="1.1"/>
<circle cx="404.76" cy="40.88" r="2.3" fill="none" stroke="#ff1010" stroke-width="1.1"/>
<circle cx="405.5" cy="35.6" r="2.3" fill="none" stroke="#ff1010" stroke-width="1.1"/>
<circle cx="406.98" cy="46.48" r="2.3" fill="none" stroke="#ff1010" stroke-width="1.1"/>
<circle cx="406.24" cy="44.55" r="2.3" fill="none" stroke="#ff1010" stroke-width="1.1"/>
<circle cx="407.6" cy="50.91" r="2.3" fill="none" stroke="#ff1010" stroke-width="1.1"/>
<circle cx="407.82" cy="43.11" r="2.3" fill="none" stroke="#ff1010" stroke-width="1.1"/>
<circle cx="409.78" cy="44.16" r="2.3" fill="none" stroke="#ff1010" stroke-width="1.1"/>
<circle cx="410.41" cy="48.17" r="2.3" fill="none" stroke="#ff1010" stroke-width="1.1"/>
<circle cx="410.01" cy="40.8" r="2.3" fill="none" stroke="#ff1010" stroke-width="1.1"/>
<circle cx="409.93" cy="41.83" r="2.3" fill="none" stroke="#ff1010" stroke-width="1.1"/>
<circle cx="412.86" cy="46.73" r="2.3" fill="none" stroke="#ff1010" stroke-width="1.1"/>
<circle cx="413.53" cy="52.6" r="2.3" fill="none" stroke="#ff1010" stroke-width="1.1"/>
<circle cx="412.51" cy="40.85" r="2.3" fill="none" stroke="#ff1010" stroke-width="1.1"/>
<circle cx="413.16" cy="38.42" r="2.3" fill="none" stroke="#ff1010" stroke-width="1.1"/>
<circle cx="415.42" cy="41.97" r="2.3" fill="none" stroke="#ff1010" stroke-width="1.1"/>
<rect x="601.8" y="2.6" width="4.4" height="91.4" fill="#00ffff"/>
<path d="M638.5 -2 L638.5 10.3 L639.4 14.6 L640 25.6 L641.3 28.5 L642.8 31 L644.8 34 L647.6 31.8 L645.8 36.8 L646.4 38.6 L649 39.4 L650.6 40.6 L651.5 38.62 L652.26 37.34 L653.42 45.87 L654.65 38.88 L655.68 43.82 L656.61 46.21 L657.87 44.47 L658.86 41.08 L660.22 41.32 L661.01 39.85 L661.81 45.94 L662.62 38.64 L663.89 45.81 L664.84 41.08 L665.92 41.93 L667.3 41.96 L668.46 34.94 L669.46 40.48 L670.77 42.52 L671.65 39.83 L672.55 41.83 L673.43 45.45 L674.43 45.93 L675.38 46.27 L676.4 36.16 L677.39 38.46 L678.73 38.03 L679.8 41.56 L680.51 39.88" fill="none" stroke="#9c3a00" stroke-width="1.0" stroke-linejoin="round" stroke-linecap="round" />
<circle cx="638.5" cy="10.3" r="2.75" fill="#9c3a00"/>
<circle cx="639.4" cy="14.6" r="2.75" fill="#9c3a00"/>
<circle cx="640" cy="25.6" r="2.75" fill="#9c3a00"/>
<circle cx="641.3" cy="28.5" r="2.75" fill="#9c3a00"/>
<circle cx="642.8" cy="31" r="2.75" fill="#9c3a00"/>
<circle cx="644.8" cy="34" r="2.75" fill="#9c3a00"/>
<circle cx="647.6" cy="31.8" r="2.75" fill="#9c3a00"/>
<circle cx="645.8" cy="36.8" r="2.75" fill="#9c3a00"/>
<circle cx="646.4" cy="38.6" r="2.75" fill="#9c3a00"/>
<circle cx="649" cy="39.4" r="2.75" fill="#9c3a00"/>
<circle cx="650.6" cy="40.6" r="2.75" fill="#9c3a00"/>
<circle cx="651.5" cy="38.62" r="2.75" fill="#9c3a00"/>
<circle cx="652.26" cy="37.34" r="2.75" fill="#9c3a00"/>
<circle cx="653.42" cy="45.87" r="2.75" fill="#9c3a00"/>
<circle cx="654.65" cy="38.88" r="2.75" fill="#9c3a00"/>
<circle cx="655.68" cy="43.82" r="2.75" fill="#9c3a00"/>
<circle cx="656.61" cy="46.21" r="2.75" fill="#9c3a00"/>
<circle cx="657.87" cy="44.47" r="2.75" fill="#9c3a00"/>
<circle cx="658.86" cy="41.08" r="2.75" fill="#9c3a00"/>
<circle cx="660.22" cy="41.32" r="2.75" fill="#9c3a00"/>
<circle cx="661.01" cy="39.85" r="2.75" fill="#9c3a00"/>
<circle cx="661.81" cy="45.94" r="2.75" fill="#9c3a00"/>
<circle cx="662.62" cy="38.64" r="2.75" fill="#9c3a00"/>
<circle cx="663.89" cy="45.81" r="2.75" fill="#9c3a00"/>
<circle cx="664.84" cy="41.08" r="2.75" fill="#9c3a00"/>
<circle cx="665.92" cy="41.93" r="2.75" fill="#9c3a00"/>
<circle cx="667.3" cy="41.96" r="2.75" fill="#9c3a00"/>
<circle cx="668.46" cy="34.94" r="2.75" fill="#9c3a00"/>
<circle cx="669.46" cy="40.48" r="2.75" fill="#9c3a00"/>
<circle cx="670.77" cy="42.52" r="2.75" fill="#9c3a00"/>
<circle cx="671.65" cy="39.83" r="2.75" fill="#9c3a00"/>
<circle cx="672.55" cy="41.83" r="2.75" fill="#9c3a00"/>
<circle cx="673.43" cy="45.45" r="2.75" fill="#9c3a00"/>
<circle cx="674.43" cy="45.93" r="2.75" fill="#9c3a00"/>
<circle cx="675.38" cy="46.27" r="2.75" fill="#9c3a00"/>
<circle cx="676.4" cy="36.16" r="2.75" fill="#9c3a00"/>
<circle cx="677.39" cy="38.46" r="2.75" fill="#9c3a00"/>
<circle cx="678.73" cy="38.03" r="2.75" fill="#9c3a00"/>
<circle cx="679.8" cy="41.56" r="2.75" fill="#9c3a00"/>
<circle cx="680.51" cy="39.88" r="2.75" fill="#9c3a00"/>
<circle cx="661.4" cy="33.6" r="2.75" fill="#9c3a00"/>
<circle cx="654.5" cy="47" r="2.75" fill="#9c3a00"/>
<circle cx="677" cy="48.8" r="2.75" fill="#9c3a00"/>
<path d="M457.4 358.1 L458.3 354 L458.6 345.6 L460.2 345 L461.6 345.5 L463.1 344.8 L464.6 345.3 L459.8 343 L461.2 342.4 L462.6 341.6 L464.1 342.3 L463.6 340.1 L465 339.6 L466 341 L465.2 338.4 L464.9 298.3 L465.6 282.3 L466.4 276.5 L467.1 273.2 L467.4 270 L468.7 253 L470 250.4 L471.2 247.8 L472 245.2 L473.3 240 L473 236.6 L474.4 227 L474.6 220 L474.8 196.5 L475.8 195.48 L477.2 195.34 L478.6 193.1 L480 190.2 L481.4 195.57 L482.8 192.38 L484.2 193.9 L485.6 191.13 L487 194.38 L488.4 195.09 L489.8 193.46 L491.2 192.76 L492.6 193.99 L494 193.96 L495.4 199.72 L496.8 191.08 L498.2 194.62 L499.6 195.2 L501 189.29 L502.4 191.06 L503.8 196.19 L505.2 191.33 L506.6 194.68 L508.3 176.5 L509.2 173.18 L510.6 171.32 L512 171.07 L513.4 173.61 L514.8 178.49 L516.2 172.68 L517.6 179.24 L519 169.45 L520.4 174.08 L521.8 178.01 L523.2 179.5 L524.6 172.36 L525.4 156.5 L526.3 154.93 L527.7 155.08 L529.1 152.98 L530.5 154.39 L531.9 154.06 L533.3 155.09 L534.7 151.62 L536.1 149.71 L537.5 155.29 L538.9 153.02 L540.3 153.13 L541.7 149.98 L543.1 157.61 L544.5 158.54 L546.5 137 L548 134.5 L548.2 131.2 L551 115.6 L551.5 98.5 L552.8 98.93 L554.2 96.6 L555.6 99.7 L557 96.17 L558.4 91.68 L559.8 97.68 L561.2 97.82 L562.6 95.56 L564 93.94 L565.4 98.41 L566.8 96.02 L568.2 98.57 L569.6 95.13 L571 101.07 L572.4 100.53 L573.8 97.43 L575.2 96.5 L576.6 97.2 L578 95.08 L579.4 100.41 L580.8 95.98 L582.2 96.92 L583.6 101.91 L585 96.54 L586.4 98.3 L587.8 96.77 L589.2 96.92 L590.6 97.79 L592 97.4 L593.4 94.81 L594.8 99.01 L596.2 99.13 L597.6 101.4 L599 94.27 L600.4 96.91 L601.8 98.59 L603.2 100.18" fill="none" stroke="#0d45f2" stroke-width="1.4" stroke-linejoin="round" stroke-linecap="round" />
<path d="M457.4 354.4 L460.9 360.5 L453.9 360.5 Z" fill="#0d45f2"/>
<path d="M458.3 350.3 L461.8 356.4 L454.8 356.4 Z" fill="#0d45f2"/>
<path d="M458.6 341.9 L462.1 348 L455.1 348 Z" fill="#0d45f2"/>
<path d="M460.2 341.3 L463.7 347.4 L456.7 347.4 Z" fill="#0d45f2"/>
<path d="M461.6 341.8 L465.1 347.9 L458.1 347.9 Z" fill="#0d45f2"/>
<path d="M463.1 341.1 L466.6 347.2 L459.6 347.2 Z" fill="#0d45f2"/>
<path d="M464.6 341.6 L468.1 347.7 L461.1 347.7 Z" fill="#0d45f2"/>
<path d="M459.8 339.3 L463.3 345.4 L456.3 345.4 Z" fill="#0d45f2"/>
<path d="M461.2 338.7 L464.7 344.8 L457.7 344.8 Z" fill="#0d45f2"/>
<path d="M462.6 337.9 L466.1 344 L459.1 344 Z" fill="#0d45f2"/>
<path d="M464.1 338.6 L467.6 344.7 L460.6 344.7 Z" fill="#0d45f2"/>
<path d="M463.6 336.4 L467.1 342.5 L460.1 342.5 Z" fill="#0d45f2"/>
<path d="M465 335.9 L468.5 342 L461.5 342 Z" fill="#0d45f2"/>
<path d="M466 337.3 L469.5 343.4 L462.5 343.4 Z" fill="#0d45f2"/>
<path d="M465.2 334.7 L468.7 340.8 L461.7 340.8 Z" fill="#0d45f2"/>
<path d="M464.9 294.6 L468.4 300.7 L461.4 300.7 Z" fill="#0d45f2"/>
<path d="M465.6 278.6 L469.1 284.7 L462.1 284.7 Z" fill="#0d45f2"/>
<path d="M466.4 272.8 L469.9 278.9 L462.9 278.9 Z" fill="#0d45f2"/>
<path d="M467.1 269.5 L470.6 275.6 L463.6 275.6 Z" fill="#0d45f2"/>
<path d="M467.4 266.3 L470.9 272.4 L463.9 272.4 Z" fill="#0d45f2"/>
<path d="M468.7 249.3 L472.2 255.4 L465.2 255.4 Z" fill="#0d45f2"/>
<path d="M470 246.7 L473.5 252.8 L466.5 252.8 Z" fill="#0d45f2"/>
<path d="M471.2 244.1 L474.7 250.2 L467.7 250.2 Z" fill="#0d45f2"/>
<path d="M472 241.5 L475.5 247.6 L468.5 247.6 Z" fill="#0d45f2"/>
<path d="M473.3 236.3 L476.8 242.4 L469.8 242.4 Z" fill="#0d45f2"/>
<path d="M473 232.9 L476.5 239 L469.5 239 Z" fill="#0d45f2"/>
<path d="M474.4 223.3 L477.9 229.4 L470.9 229.4 Z" fill="#0d45f2"/>
<path d="M474.6 216.3 L478.1 222.4 L471.1 222.4 Z" fill="#0d45f2"/>
<path d="M474.8 192.8 L478.3 198.9 L471.3 198.9 Z" fill="#0d45f2"/>
<path d="M475.8 191.78 L479.3 197.88 L472.3 197.88 Z" fill="#0d45f2"/>
<path d="M477.2 191.64 L480.7 197.74 L473.7 197.74 Z" fill="#0d45f2"/>
<path d="M478.6 189.4 L482.1 195.5 L475.1 195.5 Z" fill="#0d45f2"/>
<path d="M480 186.5 L483.5 192.6 L476.5 192.6 Z" fill="#0d45f2"/>
<path d="M481.4 191.87 L484.9 197.97 L477.9 197.97 Z" fill="#0d45f2"/>
<path d="M482.8 188.68 L486.3 194.78 L479.3 194.78 Z" fill="#0d45f2"/>
<path d="M484.2 190.2 L487.7 196.3 L480.7 196.3 Z" fill="#0d45f2"/>
<path d="M485.6 187.43 L489.1 193.53 L482.1 193.53 Z" fill="#0d45f2"/>
<path d="M487 190.68 L490.5 196.78 L483.5 196.78 Z" fill="#0d45f2"/>
<path d="M488.4 191.39 L491.9 197.49 L484.9 197.49 Z" fill="#0d45f2"/>
<path d="M489.8 189.76 L493.3 195.86 L486.3 195.86 Z" fill="#0d45f2"/>
<path d="M491.2 189.06 L494.7 195.16 L487.7 195.16 Z" fill="#0d45f2"/>
<path d="M492.6 190.29 L496.1 196.39 L489.1 196.39 Z" fill="#0d45f2"/>
<path d="M494 190.26 L497.5 196.36 L490.5 196.36 Z" fill="#0d45f2"/>
<path d="M495.4 196.02 L498.9 202.12 L491.9 202.12 Z" fill="#0d45f2"/>
<path d="M496.8 187.38 L500.3 193.48 L493.3 193.48 Z" fill="#0d45f2"/>
<path d="M498.2 190.92 L501.7 197.02 L494.7 197.02 Z" fill="#0d45f2"/>
<path d="M499.6 191.5 L503.1 197.6 L496.1 197.6 Z" fill="#0d45f2"/>
<path d="M501 185.59 L504.5 191.69 L497.5 191.69 Z" fill="#0d45f2"/>
<path d="M502.4 187.36 L505.9 193.46 L498.9 193.46 Z" fill="#0d45f2"/>
<path d="M503.8 192.49 L507.3 198.59 L500.3 198.59 Z" fill="#0d45f2"/>
<path d="M505.2 187.63 L508.7 193.73 L501.7 193.73 Z" fill="#0d45f2"/>
<path d="M506.6 190.98 L510.1 197.08 L503.1 197.08 Z" fill="#0d45f2"/>
<path d="M508.3 172.8 L511.8 178.9 L504.8 178.9 Z" fill="#0d45f2"/>
<path d="M509.2 169.48 L512.7 175.58 L505.7 175.58 Z" fill="#0d45f2"/>
<path d="M510.6 167.62 L514.1 173.72 L507.1 173.72 Z" fill="#0d45f2"/>
<path d="M512 167.37 L515.5 173.47 L508.5 173.47 Z" fill="#0d45f2"/>
<path d="M513.4 169.91 L516.9 176.01 L509.9 176.01 Z" fill="#0d45f2"/>
<path d="M514.8 174.79 L518.3 180.89 L511.3 180.89 Z" fill="#0d45f2"/>
<path d="M516.2 168.98 L519.7 175.08 L512.7 175.08 Z" fill="#0d45f2"/>
<path d="M517.6 175.54 L521.1 181.64 L514.1 181.64 Z" fill="#0d45f2"/>
<path d="M519 165.75 L522.5 171.85 L515.5 171.85 Z" fill="#0d45f2"/>
<path d="M520.4 170.38 L523.9 176.48 L516.9 176.48 Z" fill="#0d45f2"/>
<path d="M521.8 174.31 L525.3 180.41 L518.3 180.41 Z" fill="#0d45f2"/>
<path d="M523.2 175.8 L526.7 181.9 L519.7 181.9 Z" fill="#0d45f2"/>
<path d="M524.6 168.66 L528.1 174.76 L521.1 174.76 Z" fill="#0d45f2"/>
<path d="M525.4 152.8 L528.9 158.9 L521.9 158.9 Z" fill="#0d45f2"/>
<path d="M526.3 151.23 L529.8 157.33 L522.8 157.33 Z" fill="#0d45f2"/>
<path d="M527.7 151.38 L531.2 157.48 L524.2 157.48 Z" fill="#0d45f2"/>
<path d="M529.1 149.28 L532.6 155.38 L525.6 155.38 Z" fill="#0d45f2"/>
<path d="M530.5 150.69 L534 156.79 L527 156.79 Z" fill="#0d45f2"/>
<path d="M531.9 150.36 L535.4 156.46 L528.4 156.46 Z" fill="#0d45f2"/>
<path d="M533.3 151.39 L536.8 157.49 L529.8 157.49 Z" fill="#0d45f2"/>
<path d="M534.7 147.92 L538.2 154.02 L531.2 154.02 Z" fill="#0d45f2"/>
<path d="M536.1 146.01 L539.6 152.11 L532.6 152.11 Z" fill="#0d45f2"/>
<path d="M537.5 151.59 L541 157.69 L534 157.69 Z" fill="#0d45f2"/>
<path d="M538.9 149.32 L542.4 155.42 L535.4 155.42 Z" fill="#0d45f2"/>
<path d="M540.3 149.43 L543.8 155.53 L536.8 155.53 Z" fill="#0d45f2"/>
<path d="M541.7 146.28 L545.2 152.38 L538.2 152.38 Z" fill="#0d45f2"/>
<path d="M543.1 153.91 L546.6 160.01 L539.6 160.01 Z" fill="#0d45f2"/>
<path d="M544.5 154.84 L548 160.94 L541 160.94 Z" fill="#0d45f2"/>
<path d="M546.5 133.3 L550 139.4 L543 139.4 Z" fill="#0d45f2"/>
<path d="M548 130.8 L551.5 136.9 L544.5 136.9 Z" fill="#0d45f2"/>
<path d="M548.2 127.5 L551.7 133.6 L544.7 133.6 Z" fill="#0d45f2"/>
<path d="M551 111.9 L554.5 118 L547.5 118 Z" fill="#0d45f2"/>
<path d="M551.5 94.8 L555 100.9 L548 100.9 Z" fill="#0d45f2"/>
<path d="M552.8 95.23 L556.3 101.33 L549.3 101.33 Z" fill="#0d45f2"/>
<path d="M554.2 92.9 L557.7 99 L550.7 99 Z" fill="#0d45f2"/>
<path d="M555.6 96 L559.1 102.1 L552.1 102.1 Z" fill="#0d45f2"/>
<path d="M557 92.47 L560.5 98.57 L553.5 98.57 Z" fill="#0d45f2"/>
<path d="M558.4 87.98 L561.9 94.08 L554.9 94.08 Z" fill="#0d45f2"/>
<path d="M559.8 93.98 L563.3 100.08 L556.3 100.08 Z" fill="#0d45f2"/>
<path d="M561.2 94.12 L564.7 100.22 L557.7 100.22 Z" fill="#0d45f2"/>
<path d="M562.6 91.86 L566.1 97.96 L559.1 97.96 Z" fill="#0d45f2"/>
<path d="M564 90.24 L567.5 96.34 L560.5 96.34 Z" fill="#0d45f2"/>
<path d="M565.4 94.71 L568.9 100.81 L561.9 100.81 Z" fill="#0d45f2"/>
<path d="M566.8 92.32 L570.3 98.42 L563.3 98.42 Z" fill="#0d45f2"/>
<path d="M568.2 94.87 L571.7 100.97 L564.7 100.97 Z" fill="#0d45f2"/>
<path d="M569.6 91.43 L573.1 97.53 L566.1 97.53 Z" fill="#0d45f2"/>
<path d="M571 97.37 L574.5 103.47 L567.5 103.47 Z" fill="#0d45f2"/>
<path d="M572.4 96.83 L575.9 102.93 L568.9 102.93 Z" fill="#0d45f2"/>
<path d="M573.8 93.73 L577.3 99.83 L570.3 99.83 Z" fill="#0d45f2"/>
<path d="M575.2 92.8 L578.7 98.9 L571.7 98.9 Z" fill="#0d45f2"/>
<path d="M576.6 93.5 L580.1 99.6 L573.1 99.6 Z" fill="#0d45f2"/>
<path d="M578 91.38 L581.5 97.48 L574.5 97.48 Z" fill="#0d45f2"/>
<path d="M579.4 96.71 L582.9 102.81 L575.9 102.81 Z" fill="#0d45f2"/>
<path d="M580.8 92.28 L584.3 98.38 L577.3 98.38 Z" fill="#0d45f2"/>
<path d="M582.2 93.22 L585.7 99.32 L578.7 99.32 Z" fill="#0d45f2"/>
<path d="M583.6 98.21 L587.1 104.31 L580.1 104.31 Z" fill="#0d45f2"/>
<path d="M585 92.84 L588.5 98.94 L581.5 98.94 Z" fill="#0d45f2"/>
<path d="M586.4 94.6 L589.9 100.7 L582.9 100.7 Z" fill="#0d45f2"/>
<path d="M587.8 93.07 L591.3 99.17 L584.3 99.17 Z" fill="#0d45f2"/>
<path d="M589.2 93.22 L592.7 99.32 L585.7 99.32 Z" fill="#0d45f2"/>
<path d="M590.6 94.09 L594.1 100.19 L587.1 100.19 Z" fill="#0d45f2"/>
<path d="M592 93.7 L595.5 99.8 L588.5 99.8 Z" fill="#0d45f2"/>
<path d="M593.4 91.11 L596.9 97.21 L589.9 97.21 Z" fill="#0d45f2"/>
<path d="M594.8 95.31 L598.3 101.41 L591.3 101.41 Z" fill="#0d45f2"/>
<path d="M596.2 95.43 L599.7 101.53 L592.7 101.53 Z" fill="#0d45f2"/>
<path d="M597.6 97.7 L601.1 103.8 L594.1 103.8 Z" fill="#0d45f2"/>
<path d="M599 90.57 L602.5 96.67 L595.5 96.67 Z" fill="#0d45f2"/>
<path d="M600.4 93.21 L603.9 99.31 L596.9 99.31 Z" fill="#0d45f2"/>
<path d="M601.8 94.89 L605.3 100.99 L598.3 100.99 Z" fill="#0d45f2"/>
<path d="M603.2 96.48 L606.7 102.58 L599.7 102.58 Z" fill="#0d45f2"/>
<line x1="483.2" y1="193.2" x2="541.6" y2="193.2" stroke="#f4793b" stroke-width="1.9" stroke-dasharray="5.3 5.5"/>
<line x1="510.8" y1="172.9" x2="558.2" y2="172.9" stroke="#f4793b" stroke-width="1.9" stroke-dasharray="5.3 5.5"/>
<line x1="532.4" y1="152.8" x2="569.6" y2="152.8" stroke="#f4793b" stroke-width="1.9" stroke-dasharray="5.3 5.5"/>
<line x1="548.4" y1="134.3" x2="585.8" y2="134.3" stroke="#f4793b" stroke-width="1.9" stroke-dasharray="5.3 5.5"/>
<line x1="551" y1="115.7" x2="599" y2="115.7" stroke="#f4793b" stroke-width="1.9" stroke-dasharray="5.3 5.5"/>
<line x1="557" y1="95.1" x2="605.6" y2="95.1" stroke="#f4793b" stroke-width="1.9" stroke-dasharray="5.3 5.5"/>
</g>
<text x="525.2" y="188.2" font-size="10.4" text-anchor="start" fill="#231f20" stroke="#231f20" stroke-width="0.22" >90 nV</text>
<text x="542.8" y="169.9" font-size="10.4" text-anchor="start" fill="#231f20" stroke="#231f20" stroke-width="0.22" >90 nV</text>
<text x="557.4" y="150" font-size="10.4" text-anchor="start" fill="#231f20" stroke="#231f20" stroke-width="0.22" >90 nV</text>
<text x="571.4" y="130.6" font-size="10.4" text-anchor="start" fill="#231f20" stroke="#231f20" stroke-width="0.22" >90 nV</text>
<text x="585.8" y="113.5" font-size="10.4" text-anchor="start" fill="#231f20" stroke="#231f20" stroke-width="0.22" >90 nV</text>
<line x1="360" y1="380.5" x2="679" y2="380.5" stroke="#a2a2a2" stroke-width="1" />
<line x1="360" y1="443.2" x2="679" y2="443.2" stroke="#a2a2a2" stroke-width="1" />
<line x1="360" y1="380" x2="360" y2="443.7" stroke="#a2a2a2" stroke-width="1.2" />
<line x1="679" y1="380" x2="679" y2="443.7" stroke="#a2a2a2" stroke-width="1.2" />
<line x1="360" y1="435.4" x2="364" y2="435.4" stroke="#a2a2a2" stroke-width="1" />
<text x="354.6" y="439" font-size="10.4" text-anchor="end" fill="#231f20" stroke="#231f20" stroke-width="0.22" >3</text>
<line x1="360" y1="419.8" x2="364" y2="419.8" stroke="#a2a2a2" stroke-width="1" />
<text x="354.6" y="423.4" font-size="10.4" text-anchor="end" fill="#231f20" stroke="#231f20" stroke-width="0.22" >4</text>
<line x1="360" y1="404.2" x2="364" y2="404.2" stroke="#a2a2a2" stroke-width="1" />
<text x="354.6" y="407.8" font-size="10.4" text-anchor="end" fill="#231f20" stroke="#231f20" stroke-width="0.22" >5</text>
<line x1="360" y1="388.6" x2="364" y2="388.6" stroke="#a2a2a2" stroke-width="1" />
<text x="354.6" y="392.2" font-size="10.4" text-anchor="end" fill="#231f20" stroke="#231f20" stroke-width="0.22" >6</text>
<line x1="367.4" y1="443.2" x2="367.4" y2="439.2" stroke="#a2a2a2" stroke-width="1" />
<text x="367.4" y="458" font-size="10.4" text-anchor="middle" fill="#231f20" stroke="#231f20" stroke-width="0.22" >0</text>
<line x1="446.45" y1="443.2" x2="446.45" y2="439.2" stroke="#a2a2a2" stroke-width="1" />
<text x="446.45" y="458" font-size="10.4" text-anchor="middle" fill="#231f20" stroke="#231f20" stroke-width="0.22" >100</text>
<line x1="525.5" y1="443.2" x2="525.5" y2="439.2" stroke="#a2a2a2" stroke-width="1" />
<text x="525.5" y="458" font-size="10.4" text-anchor="middle" fill="#231f20" stroke="#231f20" stroke-width="0.22" >200</text>
<line x1="604.55" y1="443.2" x2="604.55" y2="439.2" stroke="#a2a2a2" stroke-width="1" />
<text x="604.55" y="458" font-size="10.4" text-anchor="middle" fill="#231f20" stroke="#231f20" stroke-width="0.22" >300</text>
<text x="370.3" y="391.8" font-size="12" text-anchor="start" fill="#231f20" stroke="#231f20" stroke-width="0.22" font-weight="bold">e</text>
<g transform="translate(519.3,474.9)" fill="#231f20" stroke-width="0.22"><text x="-18.87" y="0" font-size="10.4" stroke="#231f20">Time (s)</text></g>
<g transform="translate(335,411) rotate(-90)" fill="#231f20" stroke-width="0.22"><text x="-25.07" y="0" font-size="10.4" stroke="#231f20" font-style="italic">I</text><text x="-22.18" y="2.4" font-size="7.7" stroke="#231f20">heater</text><text x="-0.35" y="0" font-size="10.4" stroke="#231f20"> (mA)</text></g>
<line x1="368.2" y1="435.4" x2="415.78" y2="435.4" stroke="#ee1111" stroke-width="2.8" />
<path d="M415.78 435.4 L416.09 388.6 L454.67 388.6 L455.38 435.4 L604.55 435.4" fill="none" stroke="#0d45f2" stroke-width="2.8" stroke-linejoin="miter" stroke-linecap="butt" />
<line x1="604.55" y1="435.4" x2="630.32" y2="435.4" stroke="#00ffff" stroke-width="2.8" />
<line x1="630.32" y1="435.4" x2="678.5" y2="435.4" stroke="#9c3a00" stroke-width="2.8" />
</svg>
</body></html>
